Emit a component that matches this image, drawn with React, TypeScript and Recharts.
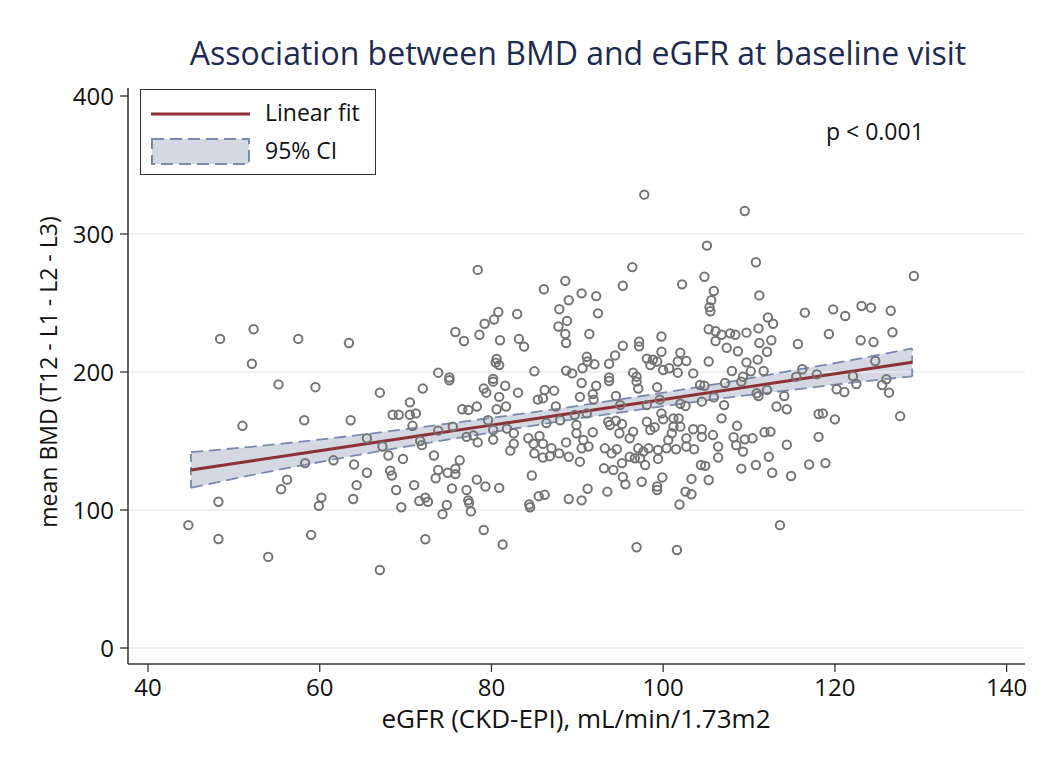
import React from "react";
import {
  ComposedChart,
  Scatter,
  Line,
  Area,
  XAxis,
  YAxis,
  ReferenceLine,
} from "recharts";

const FONT = "'Open Sans', sans-serif";

// scatter values (eGFR, mean BMD)
const egfr = [
  44.7, 48.2, 48.2, 48.4, 51.0, 52.3, 52.1, 54.0, 55.2, 55.5, 56.2, 57.5, 58.2, 58.3, 59.0, 59.5, 59.9, 60.2, 61.6, 63.4, 63.6, 64.0, 63.9, 64.3, 65.5, 65.5,
  67.0, 72.0, 75.1, 79.1, 79.4, 80.2, 81.6, 83.1, 86.2, 87.3, 80.9, 85.4, 86.0, 70.5, 68.5, 69.2, 70.5, 71.2, 70.8, 76.6, 77.3, 78.3, 80.6, 81.7, 87.5,
  79.6, 86.4, 88.0, 73.8, 75.5, 77.1, 77.9, 78.4, 80.2, 80.2, 81.8, 82.6, 82.6, 82.2, 84.3, 85.6, 84.9, 86.0, 87.0, 85.0, 86.0, 86.8, 87.9, 88.7, 89.0,
  67.3, 68.0, 69.7, 71.7, 71.9, 73.3, 76.3, 73.8, 74.9, 75.8, 75.8, 73.5, 68.2, 68.4, 68.9, 71.0, 75.4, 78.3, 79.3, 77.1, 80.9, 84.7,
  69.5, 71.6, 72.3, 72.6, 74.8, 74.3, 77.3, 77.4, 77.6, 84.4, 84.5, 85.5, 86.2, 89.0, 79.1, 72.3, 81.3, 67.0,
  78.4, 86.1, 88.6, 89.0, 87.9, 80.8, 83.0, 80.3, 79.2, 88.8, 87.8, 75.8, 76.8, 78.6, 81.0, 83.2, 83.8, 88.6, 88.7, 80.6, 80.5, 80.9, 73.8, 75.1, 80.2, 85.0, 88.7,
  97.8, 109.5, 105.1, 110.8, 96.4, 104.8, 95.3, 102.2, 105.9, 105.6, 105.4, 105.5, 111.2, 90.5, 92.2, 92.4, 91.4, 95.3, 97.2, 97.2, 99.8, 99.8,
  105.3, 106.1, 106.8, 107.8, 108.4, 106.1, 107.4, 108.7, 109.7, 111.1, 111.2, 112.2, 112.1, 111.0, 109.7, 111.7, 110.2, 108.0, 105.3, 102.7, 102.0,
  101.7, 101.7, 103.5, 100.7, 100.0, 98.8, 98.5, 98.1, 99.3, 96.5, 96.9, 94.4, 93.7, 91.1, 91.2, 92.0, 90.6, 89.4, 93.7, 109.3,
  129.2, 116.5, 119.8, 121.2, 123.1, 124.2, 126.5, 112.8, 112.6, 115.7, 119.3, 123.0, 124.5, 126.7, 116.2, 117.9, 122.1, 124.7, 126.0, 115.5,
  90.5, 92.2, 93.7, 96.9, 97.1, 99.3, 104.3, 104.8, 107.2, 109.1, 90.3, 91.8, 91.9, 94.5, 95.0, 98.1, 99.6, 102.0, 102.6, 104.5, 105.9, 107.1, 110.9, 111.1, 112.1,
  89.7, 91.1, 89.9, 89.9, 90.7, 91.8, 93.6, 93.8, 94.5, 95.2, 94.9, 96.5, 96.1, 98.1, 98.5, 99.0, 100.0, 99.8, 101.2, 101.8, 101.2, 102.0, 101.0, 103.5,
  104.5, 104.5, 105.8, 106.8, 108.6, 108.2, 109.5, 110.4, 111.8, 108.5, 109.3, 112.3, 106.4, 106.4, 102.7, 102.7, 103.6, 100.6, 101.5, 100.4, 99.4, 99.4,
  98.3, 97.7, 97.1, 97.3, 96.7, 96.1, 97.9, 94.6, 93.2, 94.0, 95.2, 94.2, 93.1, 91.3, 90.5, 90.3, 95.3, 95.6, 97.5, 99.9, 99.3, 99.3,
  104.4, 104.9, 103.3, 105.3, 109.1, 110.8, 102.6, 103.3, 101.9, 91.2, 93.5, 90.5, 96.9, 101.6,
  114.1, 113.2, 114.4, 112.5, 118.1, 118.6, 120.0, 127.6, 118.1, 114.4, 112.7, 114.9, 117.0, 118.9, 113.6, 120.2, 121.1, 122.5, 125.5, 126.3,
];

const bmd = [
  89, 106, 79, 224, 161, 231, 206, 66, 191, 115, 122, 224, 165, 134, 82, 189, 103, 109, 136, 221, 165, 133, 108, 118, 152, 127,
  185, 188, 194, 188, 185, 193, 190, 185, 187, 186.5, 182, 180, 181, 178, 169, 169, 169, 170, 161, 173, 172.5, 175, 173, 175, 175,
  165, 163, 165, 157.5, 160.4, 153, 154, 149, 158, 151, 159, 155.6, 148, 143, 152, 153.6, 148, 148, 144.7, 141, 138, 139, 141, 149, 138.6,
  146, 139.5, 137, 150, 147, 139.5, 136, 129, 127, 130, 126, 123, 128.5, 125, 114.5, 118, 115.6, 122, 117, 114.5, 116, 125,
  102, 106.5, 109, 106, 103.6, 97, 107, 105, 99, 104, 102, 110, 111, 108, 85.5, 78.8, 75, 56.5,
  274, 260, 266, 252, 245.5, 243.5, 242, 238, 235, 237, 233, 229, 222.5, 227, 223, 224, 218.4, 227.5, 221, 209.4, 206.8, 205, 199.5, 196, 195, 200.5, 201,
  328.5, 316.7, 291.6, 279.5, 276, 269, 262.5, 263.5, 258.7, 252, 247, 244, 255.5, 257, 255, 242.5, 227.5, 219, 222, 218.6, 225.7, 214.7,
  231, 229.5, 227, 228, 227, 222.5, 217.6, 215, 228.5, 231.6, 221, 239.5, 214.7, 209, 207, 200.7, 200.5, 200.7, 207.6, 208, 214,
  207.6, 199.5, 199, 202.7, 201.4, 209, 205, 209.7, 207.6, 199.5, 196.6, 212, 206, 211, 207.6, 205.6, 202.7, 199, 196, 196.6,
  269.6, 243, 245.4, 240.6, 247.8, 246.6, 244.4, 235, 223, 220.3, 227.5, 223, 221.7, 228.8, 202, 198.3, 197, 208, 194.7, 196.6,
  192, 190, 193.5, 193, 188, 189, 190.6, 190, 192, 193, 182, 184, 180, 182.6, 176, 176, 180, 177, 175.4, 178.5, 181.6, 176, 184.6, 182.6, 187,
  168.8, 170, 161.6, 155.6, 150.7, 156.3, 164, 161.6, 164.7, 162.3, 155.6, 156.8, 152, 164, 158, 160, 165.7, 170, 166.4, 166.4, 160.4, 160.4, 155.6, 158.5,
  158.5, 153, 154.3, 166.4, 161, 152.7, 151.2, 152, 156.3, 147, 142.3, 138.6, 146, 138, 152, 146, 144, 150.7, 144, 144.7, 143.5, 137,
  144.7, 142.3, 144.7, 137.5, 137.5, 138.6, 132.6, 144, 144.7, 141, 134, 129, 130.2, 146, 144.7, 135, 124, 118.6, 120.5, 123.6, 117, 114.5,
  132.6, 132, 122.5, 121.7, 130, 132.6, 113.3, 111.4, 104, 115.4, 113.3, 107, 73, 71,
  182.6, 175, 173, 156.8, 169.6, 170, 165.7, 168, 153, 147.3, 127, 124.6, 133, 134, 89, 187.5, 185.5, 191.3, 190.6, 185,
];

// linear fit and its 95% CI
const fitX = [45, 52, 59, 66, 73, 80, 87, 94, 101, 108, 115, 122, 129];
const fitY = [129, 135.5, 142, 148.5, 155, 161.5, 168, 174.5, 181, 187.5, 194, 200.5, 207];
const ciLow = [116, 125.2, 133.6, 141.6, 149, 156.2, 163.3, 169.8, 176, 181.8, 187, 192.3, 196.8];
const ciHigh = [142, 145.8, 150.4, 155.4, 161, 166.8, 172.7, 179.2, 186, 193.2, 201, 208.7, 217.2];

const xTicks = [40, 60, 80, 100, 120, 140];
const yTicks = [0, 100, 200, 300, 400];
const gridValues = [0, 100, 200, 300];

const points = egfr.map((x, i) => ({ egfr: x, bmd: bmd[i] }));
const fitRows = fitX.map((x, i) => ({
  egfr: x,
  fit: fitY[i],
  lo: ciLow[i],
  hi: ciHigh[i],
  ci: [ciLow[i], ciHigh[i]],
}));

const FIT_COLOR = "#8f2f36";
const CI_FILL = "#d3d8e3";
const CI_EDGE = "#7a8aad";
const DOT_COLOR = "#747474";

function Ring(props: { cx?: number; cy?: number }) {
  if (props.cx == null || props.cy == null) return null;
  return <circle cx={props.cx} cy={props.cy} r={4.2} fill="none" stroke={DOT_COLOR} strokeWidth={2} />;
}

const tickStyle = { fontSize: 24, fill: "#111", fontFamily: FONT };

export default function App() {
  return (
    <div style={{ position: "absolute", left: 0, top: 0, width: 1043, height: 767, background: "#fff", fontFamily: FONT }}>
      <div
        style={{
          position: "absolute",
          left: 0,
          width: 1156,
          top: 31,
          textAlign: "center",
          fontSize: 32,
          lineHeight: "44px",
          color: "#1c2b4f",
          whiteSpace: "nowrap",
        }}
      >
        Association between BMD and eGFR at baseline visit
      </div>

      <ComposedChart
        width={1043}
        height={767}
        data={fitRows}
        margin={{ top: 88, right: 18, bottom: 63, left: 68 }}
      >
        {gridValues.map((v) => (
          <ReferenceLine key={v} y={v} stroke="#e5ecf0" strokeWidth={1.5} />
        ))}
        <XAxis
          dataKey="egfr"
          type="number"
          domain={[37.67, 142.14]}
          ticks={xTicks}
          allowDataOverflow
          height={40}
          tickSize={8}
          tickMargin={7}
          tick={tickStyle}
          axisLine={{ stroke: "#333", strokeWidth: 1.5 }}
          tickLine={{ stroke: "#333", strokeWidth: 1.3 }}
        />
        <YAxis
          type="number"
          domain={[-11.6, 405.8]}
          ticks={yTicks}
          allowDataOverflow
          width={60}
          tickSize={8}
          tickMargin={6}
          tick={tickStyle}
          axisLine={{ stroke: "#333", strokeWidth: 1.5 }}
          tickLine={{ stroke: "#333", strokeWidth: 1.3 }}
        />
        <Area
          dataKey="ci"
          type="monotone"
          fill={CI_FILL}
          fillOpacity={1}
          stroke="none"
          isAnimationActive={false}
        />
        <Line dataKey="lo" type="monotone" stroke={CI_EDGE} strokeWidth={1.8} strokeDasharray="12 6" dot={false} isAnimationActive={false} />
        <Line dataKey="hi" type="monotone" stroke={CI_EDGE} strokeWidth={1.8} strokeDasharray="12 6" dot={false} isAnimationActive={false} />
        <ReferenceLine
          segment={[
            { x: fitX[0], y: ciLow[0] },
            { x: fitX[0], y: ciHigh[0] },
          ]}
          stroke={CI_EDGE}
          strokeWidth={1.8}
          strokeDasharray="8 5"
        />
        <ReferenceLine
          segment={[
            { x: fitX[fitX.length - 1], y: ciLow[ciLow.length - 1] },
            { x: fitX[fitX.length - 1], y: ciHigh[ciHigh.length - 1] },
          ]}
          stroke={CI_EDGE}
          strokeWidth={1.8}
          strokeDasharray="8 5"
        />
        <Line dataKey="fit" type="linear" stroke={FIT_COLOR} strokeWidth={3} dot={false} isAnimationActive={false} />
        <Scatter data={points} dataKey="bmd" shape={<Ring />} isAnimationActive={false} />
      </ComposedChart>

      {/* legend box */}
      <div
        style={{
          position: "absolute",
          left: 140,
          top: 89,
          width: 236,
          height: 86,
          border: "1px solid #333",
          boxSizing: "border-box",
          background: "#fff",
        }}
      >
        <svg width={120} height={84} style={{ position: "absolute", left: 0, top: 0 }}>
          <line x1={10} x2={109} y1={24} y2={24} stroke={FIT_COLOR} strokeWidth={3} />
          <rect x={11} y={49} width={97} height={25} fill={CI_FILL} stroke={CI_EDGE} strokeWidth={2} strokeDasharray="12 6" />
        </svg>
        <div style={{ position: "absolute", left: 124, top: 6, fontSize: 23, lineHeight: "32px", color: "#111" }}>Linear fit</div>
        <div style={{ position: "absolute", left: 124, top: 44, fontSize: 23, lineHeight: "32px", color: "#111" }}>95% CI</div>
      </div>

      <div style={{ position: "absolute", left: 826, top: 115, fontSize: 23, lineHeight: "32px", color: "#111" }}>p &lt; 0.001</div>

      <div
        style={{
          position: "absolute",
          left: 48,
          top: 372,
          transform: "translate(-50%, -50%) rotate(-90deg)",
          fontSize: 23,
          color: "#111",
          whiteSpace: "nowrap",
        }}
      >
        mean BMD (T12 - L1 - L2 - L3)
      </div>

      <div
        style={{
          position: "absolute",
          left: 576,
          top: 718,
          transform: "translate(-50%, -50%)",
          fontSize: 26,
          color: "#111",
          whiteSpace: "nowrap",
        }}
      >
        eGFR (CKD-EPI), mL/min/1.73m2
      </div>
    </div>
  );
}
